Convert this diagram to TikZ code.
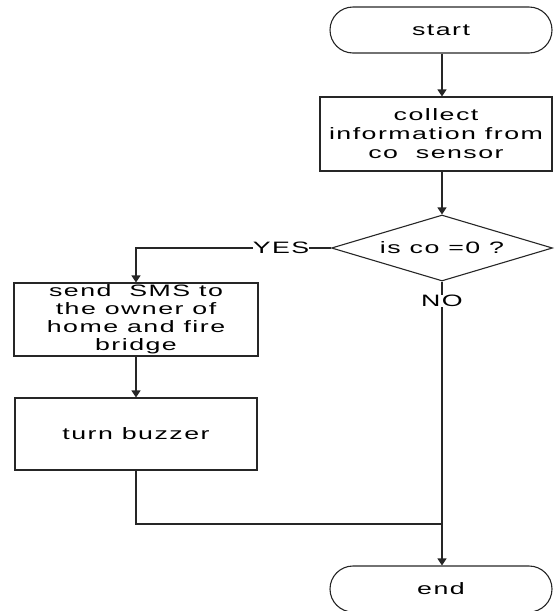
\documentclass[tikz,border=0pt]{standalone}
\usepackage{fontspec}
\setmainfont{Liberation Sans}[FakeStretch=1.62,LetterSpace=9]
\usetikzlibrary{arrows.meta,shapes.geometric}

\tikzset{
  flow/.style={draw=black!85, line width=1.1pt},
  terminal/.style={flow, rectangle, rounded corners=23pt,
    minimum width=222pt, minimum height=46pt, inner sep=0pt},
  procbox/.style={flow, rectangle, align=center, inner sep=0pt},
  decision/.style={flow, diamond, aspect=3.35, inner sep=0pt,
    minimum width=221pt, minimum height=66pt},
  lbl/.style={inner sep=0pt, fill=white},
  conn/.style={draw=black!85, line width=1.1pt},
  arr/.style={conn, -{Triangle[width=9pt,length=7pt]}}
}

\begin{document}
\begin{tikzpicture}[x=1pt, y=-1pt, font=\fontsize{16.5}{19}\selectfont]
  \useasboundingbox (0,0) rectangle (555,611);

  % main column
  \node[terminal] (start) at (441,30) {start};
  \node[procbox, minimum width=232pt, minimum height=74pt] (collect) at (436,134)
    {collect\\information from\\co\ \ sensor};
  \node[decision] (dec) at (442,248) {is co =0 ?};
  \node[terminal] (end) at (441,589) {end};

  % left branch
  \node[procbox, minimum width=244pt, minimum height=73pt,
    font=\fontsize{16.5}{18}\selectfont] (send) at (136,319.5)
    {send\ \ SMS to\\the owner of\\home and fire\\bridge};
  \node[procbox, minimum width=242pt, minimum height=72pt] (buzz) at (136,434)
    {turn buzzer};

  % branch labels
  \node[lbl] (yes) at (281,248) {YES};
  \node[lbl] (no) at (442,301) {NO};
  \coordinate (merge) at (442,524);

  % connectors
  \draw[arr] (start.south -| dec.north) -- (dec.north |- collect.north);
  \draw[arr] (collect.south -| dec.north) -- (dec.north);
  \draw[conn] (dec.west) -- (yes.east);
  \draw[arr] (yes.west) -| (send.north);
  \draw[arr] (send.south) -- (buzz.north);
  \draw[conn] (dec.south) -- (no.north);
  \draw[arr] (no.south) -- (end.north -| no.south);
  \draw[conn] (buzz.south) |- (merge);
\end{tikzpicture}
\end{document}
